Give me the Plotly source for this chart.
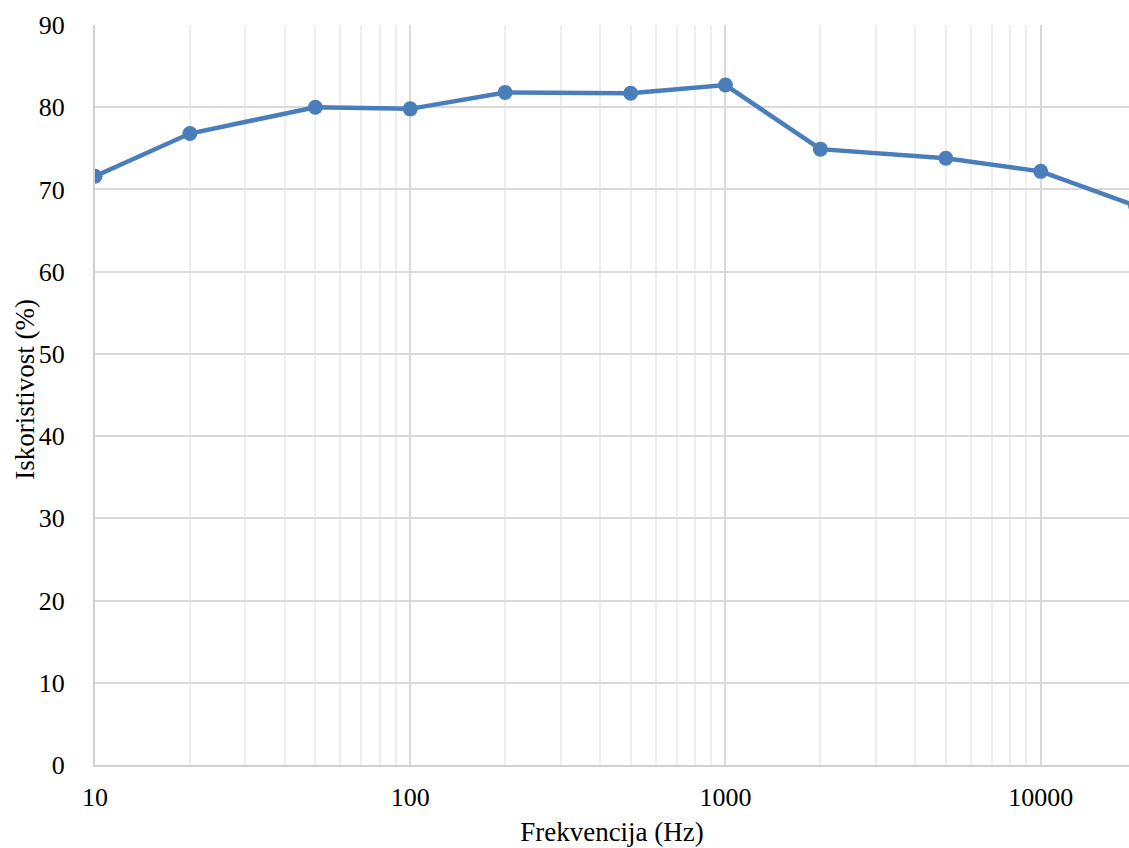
import plotly.graph_objects as go

# frequency sweep, efficiency in percent
freq_hz = [10, 20, 50, 100, 200, 500, 1000, 2000, 5000, 10000, 20000]
efficiency = [71.6, 76.8, 80.0, 79.8, 81.8, 81.7, 82.7, 74.9, 73.8, 72.2, 68.0]

y_ticks = [0, 10, 20, 30, 40, 50, 60, 70, 80, 90]
x_ticks = [10, 100, 1000, 10000]

FONT = "Liberation Serif, DejaVu Serif, serif"
BLUE = "#4a7ebb"

fig = go.Figure()
fig.add_trace(go.Scatter(
    x=freq_hz, y=efficiency,
    mode="lines+markers",
    line=dict(color=BLUE, width=4.5),
    marker=dict(color=BLUE, size=15),
    showlegend=False,
    cliponaxis=True,
))

fig.update_layout(
    width=1129, height=848,
    paper_bgcolor="white", plot_bgcolor="white",
    font=dict(family=FONT, size=26, color="#000000"),
    margin=dict(l=95, r=0, t=25, b=83, pad=0),
    xaxis=dict(
        type="log",
        range=[1, 4.28],
        tickvals=x_ticks, ticktext=[str(v) for v in x_ticks],
        showgrid=True, gridcolor="#d9d9d9", gridwidth=2,
        minor=dict(showgrid=True, gridcolor="#eeeeee", gridwidth=2, dtick="D1"),
        showline=True, linecolor="#d0d0d0", linewidth=2,
        ticks="", ticklen=0, ticklabelstandoff=8,
        title=dict(text="Frekvencija (Hz)", font=dict(size=27), standoff=11),
        zeroline=False, automargin=False,
    ),
    yaxis=dict(
        range=[0, 90],
        tickvals=y_ticks,
        showgrid=True, gridcolor="#d9d9d9", gridwidth=2,
        showline=True, linecolor="#d0d0d0", linewidth=2,
        ticks="", ticklabelstandoff=23,
        zeroline=False, automargin=False,
    ),
)

# y title placed as an annotation so it can sit closer to the tick labels
fig.add_annotation(
    text="Iskoristivost (%)", textangle=-90,
    xref="paper", yref="paper", x=-70 / 1034, y=0.507,
    xanchor="center", yanchor="middle", showarrow=False,
    font=dict(family=FONT, size=27, color="#000000"),
)

# drop the default 8px page margin so the figure sits at the window origin
fig.write_html(
    "out.html",
    config={"displayModeBar": False},
    post_script="document.body.style.margin='0';",
)
